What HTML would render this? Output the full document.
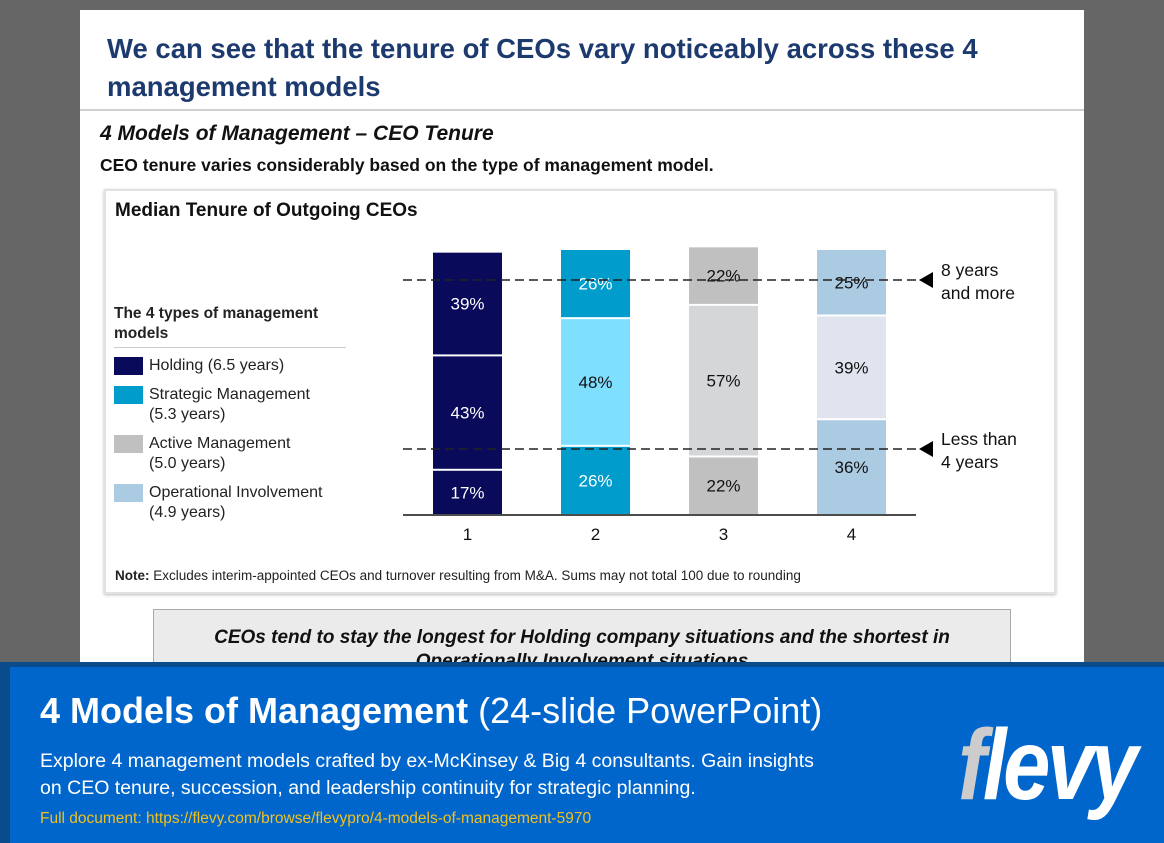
<!DOCTYPE html>
<html><head><meta charset="utf-8"><style>
*{margin:0;padding:0;box-sizing:border-box}
body{width:1164px;height:843px;background:#666;position:relative;overflow:hidden;font-family:"Liberation Sans",sans-serif}
.abs{position:absolute}
</style></head><body>
<div class="abs" style="left:80px;top:10px;width:1004px;height:660px;background:#fff">
  <div class="abs" style="left:27px;top:20px;width:950px;font-size:27.5px;font-weight:bold;color:#1c3a6e;line-height:38px">We can see that the tenure of CEOs vary noticeably across these 4 management models</div>
  <div class="abs" style="left:0;top:99px;width:1004px;height:2px;background:#d0d0d0"></div>
  <div class="abs" style="left:20px;top:112px;font-size:21px;font-weight:bold;font-style:italic;color:#111">4 Models of Management – CEO Tenure</div>
  <div class="abs" style="left:20px;top:145px;font-size:17.5px;font-weight:bold;color:#111">CEO tenure varies considerably based on the type of management model.</div>
  <div class="abs" style="left:73px;top:599px;width:858px;height:70px;background:#ebebeb;border:1px solid #aaa;text-align:center;font-size:19px;font-weight:bold;font-style:italic;line-height:24px;padding-top:16px;color:#111">CEOs tend to stay the longest for Holding company situations and the shortest in<br>Operationally Involvement situations</div>
</div>
<div class="abs" style="left:104px;top:189px;width:952px;height:405px;border:2px solid #e2e2e2;box-shadow:0 1px 3px #bbb;background:#fff"></div>
<div class="abs" style="left:115px;top:200px;font-size:19px;font-weight:bold;color:#111">Median Tenure of Outgoing CEOs</div>
<div class="abs" style="left:114px;top:304px;width:232px;font-size:16px;color:#222">
  <div style="font-weight:bold;font-size:15.5px;line-height:20px;border-bottom:1px solid #ccc;padding-bottom:3px">The 4 types of management models</div>
  <div id="legitems"></div>
</div>
<div class="abs" style="left:115px;top:568px;font-size:13.5px;color:#222"><b>Note:</b> Excludes interim-appointed CEOs and turnover resulting from M&amp;A. Sums may not total 100 due to rounding</div>
<svg class="abs" style="left:0;top:0" width="1164" height="843" id="chart"></svg>
<div class="abs" style="left:0;top:662px;width:1164px;height:181px;background:#0a4b8c">
  <div class="abs" style="left:10px;top:5px;width:1154px;height:176px;background:#0066cc"></div>
  <div class="abs" style="left:40px;top:28px;font-size:36px;color:#fff"><b style="font-weight:600">4 Models of Management</b> <span style="font-weight:300">(24-slide PowerPoint)</span></div>
  <div class="abs" style="left:40px;top:86px;font-size:19.5px;color:#fff;line-height:27px;width:800px">Explore 4 management models crafted by ex-McKinsey &amp; Big 4 consultants. Gain insights on CEO tenure, succession, and leadership continuity for strategic planning.</div>
  <div class="abs" style="left:40px;top:148px;font-size:15.5px;color:#f0c020">Full document: https://flevy.com/browse/flevypro/4-models-of-management-5970</div>
  <div class="abs" style="left:958px;top:48px;font-size:100px;line-height:110px;font-weight:bold;font-style:italic;color:#fff;letter-spacing:-4px;transform:scaleX(0.85);transform-origin:left"><span style="color:#ccc">f</span>levy</div>
</div>
<script>
const categories=["1","2","3","4"];
const bottomVals=[17,26,22,36];
const midVals=[43,48,57,39];
const topVals=[39,26,22,25];
const legendLabels=["Holding (6.5 years)","Strategic Management (5.3 years)","Active Management (5.0 years)","Operational Involvement (4.9 years)"];
const outerColors=["#0a0a5a","#009ccc","#c0c0c0","#abcbe3"];
const midColors=["#0a0a5a","#7fdfff","#d5d6d8","#dfe4ee"];
const outerText=["#fff","#fff","#111","#111"];
const midText=["#fff","#111","#111","#111"];
const ns="http://www.w3.org/2000/svg";
const svg=document.getElementById('chart');
const baseY=515, pxPer=2.66, x0=433, step=128, bw=69;
const y=v=>baseY-v*pxPer;
const x=i=>x0+i*step;
function mk(t,a){const e=document.createElementNS(ns,t);for(const k in a)e.setAttribute(k,a[k]);svg.appendChild(e);return e;}
categories.forEach((c,i)=>{
  const segs=[[bottomVals[i],outerColors[i],outerText[i],'bottom'],[midVals[i],midColors[i],midText[i],'middle'],[topVals[i],outerColors[i],outerText[i],'top']];
  let acc=0;
  segs.forEach(s=>{
    const y1=y(acc+s[0]), y2=y(acc);
    const r=mk('rect',{x:x(i),y:y1+1,width:bw,height:Math.max(0,y2-y1-2),fill:s[1]});
    
    
    const t=mk('text',{x:x(i)+bw/2,y:(y1+y2)/2+6,'text-anchor':'middle','font-size':17,fill:s[2],'font-family':'Liberation Sans'});
    t.textContent=s[0]+'%';
    
    
    acc+=s[0];
  });
  const xl=mk('text',{x:x(i)+bw/2,y:540,'text-anchor':'middle','font-size':17,fill:'#111','font-family':'Liberation Sans'});
  xl.textContent=c;
  
  
});
const ax=mk('line',{x1:403,x2:916,y1:515,y2:515,stroke:'#111','stroke-width':1.5});


[[280,'8 years','and more'],[449,'Less than','4 years']].forEach(d=>{
  const l=mk('line',{x1:403,x2:918,y1:d[0],y2:d[0],stroke:'#222','stroke-width':1.4,'stroke-dasharray':'9,5'});
  
  
  const p=mk('polygon',{points:`919,${d[0]} 933,${d[0]-8} 933,${d[0]+8}`,fill:'#000'});
  
  
  const t1=mk('text',{x:941,y:d[0]-4,'font-size':17.5,fill:'#111','font-family':'Liberation Sans'});t1.textContent=d[1];
  
  
  const t2=mk('text',{x:941,y:d[0]+19,'font-size':17.5,fill:'#111','font-family':'Liberation Sans'});t2.textContent=d[2];
  
  
});
const li=document.getElementById('legitems');
legendLabels.forEach((lab,i)=>{
  const parts=lab.split(' (');
  const d=document.createElement('div');
  
  
  d.style.cssText='position:relative;padding-left:35px;line-height:20px;margin-top:'+(i===0?'8px':'9px')+';min-height:20px';
  d.innerHTML='<span style="position:absolute;left:0;top:1px;width:29px;height:18px;background:'+outerColors[i]+'"></span>'+(i===0?lab:parts[0]+'<br>('+parts[1]);
  li.appendChild(d);
});
</script>
</body></html>
